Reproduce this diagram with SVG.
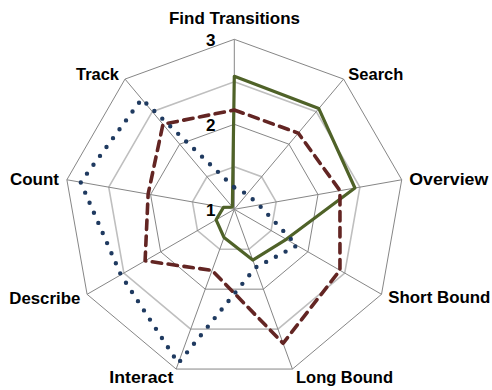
<svg xmlns="http://www.w3.org/2000/svg" width="492" height="390" viewBox="0 0 492 390">
<style>
.ring-d{fill:none;stroke:#868686;stroke-width:1}
.ring-l{fill:none;stroke:#bfbfbf;stroke-width:1.6}
.spoke{stroke:#868686;stroke-width:1}
.green{fill:none;stroke:#4f6228;stroke-width:3.2;stroke-linejoin:round}
.red{fill:none;stroke:#632523;stroke-width:3.6;stroke-linejoin:round;stroke-linecap:round;stroke-dasharray:9.5 6.5}
.blue{fill:none;stroke:#1f3a60;stroke-width:4.4;stroke-linejoin:round;stroke-linecap:round;stroke-dasharray:0 11}
text{font-family:"Liberation Sans",Arial,sans-serif;font-weight:bold;font-size:17px;fill:#000}
.lbl{}
</style>
<rect width="492" height="390" fill="#ffffff"/>
<g id="grid" transform="translate(234.3,209.3)">
<polygon class="ring-l" points="0,-42.5 27.32,-32.56 41.85,-7.38 36.81,21.25 14.54,39.94 -14.54,39.94 -36.81,21.25 -41.85,-7.38 -27.32,-32.56"/>
<polygon class="ring-d" points="0,-85 54.64,-65.11 83.71,-14.76 73.61,42.5 29.07,79.87 -29.07,79.87 -73.61,42.5 -83.71,-14.76 -54.64,-65.11"/>
<polygon class="ring-l" points="0,-127.5 81.96,-97.67 125.56,-22.14 110.42,63.75 43.61,119.81 -43.61,119.81 -110.42,63.75 -125.56,-22.14 -81.96,-97.67"/>
<polygon class="ring-d" points="0,-170 109.28,-130.22 167.42,-29.52 147.22,85 58.14,159.75 -58.14,159.75 -147.22,85 -167.42,-29.52 -109.28,-130.22"/>
<g id="spokes">
<line class="spoke" x1="0" y1="0" x2="0" y2="-170"/>
<line class="spoke" x1="0" y1="0" x2="109.28" y2="-130.22"/>
<line class="spoke" x1="0" y1="0" x2="167.42" y2="-29.52"/>
<line class="spoke" x1="0" y1="0" x2="147.22" y2="85"/>
<line class="spoke" x1="0" y1="0" x2="58.14" y2="159.75"/>
<line class="spoke" x1="0" y1="0" x2="-58.14" y2="159.75"/>
<line class="spoke" x1="0" y1="0" x2="-147.22" y2="85"/>
<line class="spoke" x1="0" y1="0" x2="-167.42" y2="-29.52"/>
<line class="spoke" x1="0" y1="0" x2="-109.28" y2="-130.22"/>
</g>
</g>
<g id="series" transform="translate(234.3,209.3)">
<polygon id="series-green" class="green" points="0,-133 84.53,-100.73 120.64,-21.27 51.96,30 18.47,50.74 -10.26,28.19 -18.19,10.5 -10.83,-1.91 -1.93,-2.3"/>
<polygon id="series-red" class="red" points="0,-99.3 63.96,-76.22 105.67,-18.63 105.65,61 48.77,134 -22.23,61.08 -89.2,51.5 -86.17,-15.19 -71.35,-85.03"/>
<polygon id="series-blue" class="blue" points="0,-21.8 12.73,-15.17 24.62,-4.34 62.7,36.2 21.2,58.26 -56.02,153.92 -113.45,65.5 -153.63,-27.08 -92.56,-110.3"/>
</g>
<g id="axis-values">
<text x="215.5" y="45.5" text-anchor="end">3</text>
<text x="215.5" y="130.8" text-anchor="end">2</text>
<text x="215.5" y="216" text-anchor="end">1</text>
</g>
<g id="labels">
<text id="label-find" x="169" y="23.5" textLength="131" lengthAdjust="spacingAndGlyphs">Find Transitions</text>
<text id="label-search" x="348.3" y="80" textLength="55" lengthAdjust="spacingAndGlyphs">Search</text>
<text id="label-overview" x="409.3" y="185" textLength="79" lengthAdjust="spacingAndGlyphs">Overview</text>
<text id="label-short" x="388.3" y="303.3" textLength="102" lengthAdjust="spacingAndGlyphs">Short Bound</text>
<text id="label-long" x="296" y="382.7" textLength="97" lengthAdjust="spacingAndGlyphs">Long Bound</text>
<text id="label-interact" x="109.3" y="382.7" textLength="64" lengthAdjust="spacingAndGlyphs">Interact</text>
<text id="label-describe" x="9.3" y="304.3" textLength="71" lengthAdjust="spacingAndGlyphs">Describe</text>
<text id="label-count" x="10" y="185" textLength="49" lengthAdjust="spacingAndGlyphs">Count</text>
<text id="label-track" x="76" y="80" textLength="43" lengthAdjust="spacingAndGlyphs">Track</text>
</g>
</svg>
